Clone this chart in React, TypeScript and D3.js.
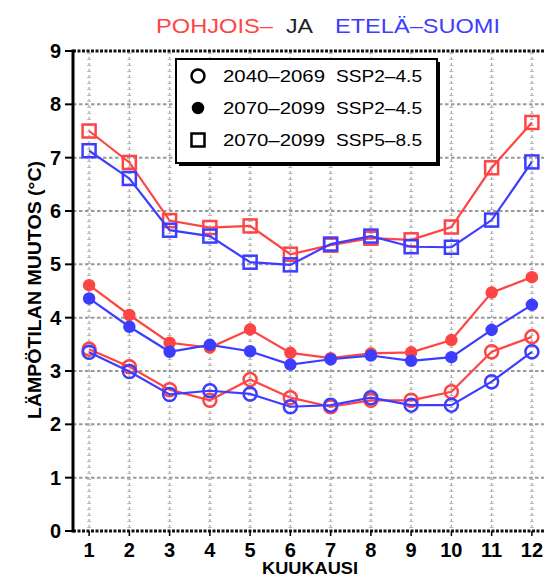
import * as d3 from 'd3';

const months = [1, 2, 3, 4, 5, 6, 7, 8, 9, 10, 11, 12];
const yTicks = [0, 1, 2, 3, 4, 5, 6, 7, 8, 9];

// 2040-2069 SSP2-4.5 (open circles)
const north2040ssp245 = [3.41, 3.08, 2.65, 2.45, 2.84, 2.5, 2.33, 2.45, 2.45, 2.61, 3.36, 3.64];
const south2040ssp245 = [3.35, 2.99, 2.56, 2.63, 2.57, 2.33, 2.36, 2.5, 2.36, 2.36, 2.8, 3.36];
// 2070-2099 SSP2-4.5 (filled circles)
const north2070ssp245 = [4.61, 4.05, 3.53, 3.44, 3.78, 3.34, 3.24, 3.33, 3.35, 3.58, 4.47, 4.76];
const south2070ssp245 = [4.36, 3.83, 3.36, 3.49, 3.37, 3.12, 3.22, 3.29, 3.19, 3.26, 3.77, 4.24];
// 2070-2099 SSP5-8.5 (squares)
const north2070ssp585 = [7.5, 6.91, 5.82, 5.69, 5.72, 5.19, 5.36, 5.49, 5.46, 5.7, 6.81, 7.66];
const south2070ssp585 = [7.13, 6.61, 5.64, 5.53, 5.04, 4.99, 5.38, 5.53, 5.33, 5.32, 5.83, 6.92];

const legendPeriods = ['2040–2069', '2070–2099', '2070–2099'];
const legendScenarios = ['SSP2–4.5', 'SSP2–4.5', 'SSP5–8.5'];
const legendSymbols = ['open', 'filled', 'square'];

const RED = '#ff4444';
const BLUE = '#3d3dff';

const x = d3.scaleLinear().domain([0.6, 12.4]).range([73, 548]);
const y = d3.scaleLinear().domain([0, 9]).range([531, 51]);
const line = d3.line<number>().x((_, i) => x(months[i])).y(d => y(d));

const Marker = ({ kind, cx, cy, color }) => {
  if (kind === 'square')
    return <rect x={cx - 6.5} y={cy - 6.5} width={13} height={13} fill="none" stroke={color} strokeWidth={2.5} />;
  if (kind === 'filled')
    return <circle cx={cx} cy={cy} r={5.5} fill={color} stroke={color} strokeWidth={1.5} />;
  return <circle cx={cx} cy={cy} r={6.5} fill="none" stroke={color} strokeWidth={2.5} />;
};

const Series = ({ values, color, kind }) => (
  <g>
    <path d={line(values)} fill="none" stroke={color} strokeWidth={2.2} />
    {values.map((v, i) => (
      <Marker key={i} kind={kind} cx={x(months[i])} cy={y(v)} color={color} />
    ))}
  </g>
);

const font = '"Liberation Sans", Arial, sans-serif';

export default function App() {
  const series = [
    { values: north2070ssp585, color: RED, kind: 'square' },
    { values: south2070ssp585, color: BLUE, kind: 'square' },
    { values: north2070ssp245, color: RED, kind: 'filled' },
    { values: south2070ssp245, color: BLUE, kind: 'filled' },
    { values: north2040ssp245, color: RED, kind: 'open' },
    { values: south2040ssp245, color: BLUE, kind: 'open' },
  ];
  return (
    <svg width={544} height={579} style={{ position: 'absolute', left: 0, top: 0, background: '#fff' }}>
      {/* title */}
      <g fontFamily={font} fontSize={21}>
        <text x={156} y={33} fill={RED} textLength={117} lengthAdjust="spacingAndGlyphs">POHJOIS–</text>
        <text x={286} y={33} fill="#222" textLength={27} lengthAdjust="spacingAndGlyphs">JA</text>
        <text x={335} y={33} fill={BLUE} textLength={165} lengthAdjust="spacingAndGlyphs">ETELÄ–SUOMI</text>
      </g>

      {/* grid */}
      <g>
        {months.map(m => (
          <g key={m}>
            <line x1={x(m)} x2={x(m)} y1={y(9)} y2={y(0)} stroke="#aaa" strokeWidth={1.3} strokeDasharray="3,3" />
            <line x1={x(m)} x2={x(m)} y1={y(9)} y2={y(0)} stroke="#bbb" strokeWidth={4} strokeDasharray="1,5" strokeDashoffset={-2} />
          </g>
        ))}
        {yTicks.slice(1, 9).map(t => (
          <line key={t} x1={x(0.6)} x2={544} y1={y(t)} y2={y(t)} stroke="#999" strokeWidth={2} strokeDasharray="3.5,2.5" />
        ))}
      </g>

      {/* series */}
      {series.map((s, i) => (
        <Series key={i} values={s.values} color={s.color} kind={s.kind} />
      ))}

      {/* frame */}
      <line x1={x(0.6)} x2={544} y1={y(9)} y2={y(9)} stroke="#111" strokeWidth={3} strokeDasharray="3,1.5" />
      <line x1={x(0.6)} x2={544} y1={y(0)} y2={y(0)} stroke="#111" strokeWidth={3} strokeDasharray="3,1.5" />
      <line x1={x(0.6)} x2={x(0.6)} y1={y(9) - 1.5} y2={y(0) + 1.5} stroke="#000" strokeWidth={3} />
      {yTicks.map(t => (
        <line key={t} x1={x(0.6) - 8} x2={x(0.6)} y1={y(t)} y2={y(t)} stroke="#000" strokeWidth={2} />
      ))}
      {months.map(m => (
        <line key={m} x1={x(m)} x2={x(m)} y1={y(0)} y2={y(0) + 5} stroke="#000" strokeWidth={1.5} />
      ))}

      {/* tick labels */}
      <g fontFamily={font} fontWeight="bold" fontSize={20} fill="#000">
        {yTicks.map(t => (
          <text key={t} x={61} y={y(t) + 7} textAnchor="end">{t}</text>
        ))}
        {months.map(m => (
          <text key={m} x={x(m)} y={557} textAnchor="middle">{m}</text>
        ))}
      </g>
      <text x={310} y={574} textAnchor="middle" fontFamily={font} fontWeight="bold" fontSize={17} textLength={96} lengthAdjust="spacingAndGlyphs">KUUKAUSI</text>
      <text transform="translate(41,290) rotate(-90)" textAnchor="middle" fontFamily={font} fontWeight="bold" fontSize={18} textLength={258} lengthAdjust="spacingAndGlyphs">LÄMPÖTILAN MUUTOS (°C)</text>

      {/* legend */}
      <rect x={179} y={62} width={261} height={104} fill="#000" />
      <rect x={176} y={59} width={261} height={104} fill="#fff" stroke="#000" strokeWidth={2} />
      {legendSymbols.map((k, i) => {
        const ry = 76 + i * 32;
        return (
          <g key={i}>
            <Marker kind={k} cx={198} cy={ry} color="#000" />
            <text x={223} y={ry + 6} fontFamily={font} fontSize={17} textLength={102} lengthAdjust="spacingAndGlyphs">{legendPeriods[i]}</text>
            <text x={336} y={ry + 6} fontFamily={font} fontSize={17} textLength={86} lengthAdjust="spacingAndGlyphs">{legendScenarios[i]}</text>
          </g>
        );
      })}
    </svg>
  );
}
